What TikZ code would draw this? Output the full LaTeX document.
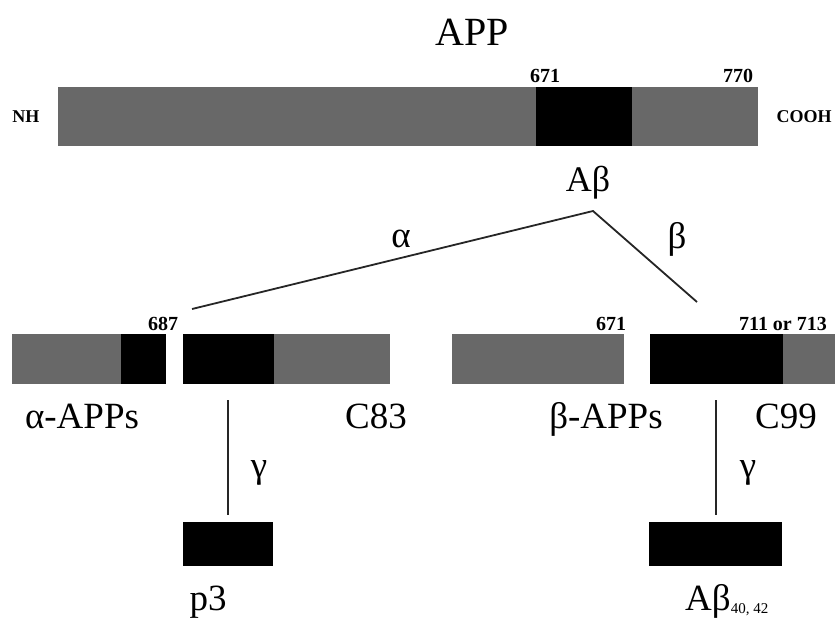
\documentclass[tikz,border=0pt]{standalone}
\usepackage{fontspec}
\setmainfont{Liberation Serif}
\definecolor{bargray}{RGB}{104,104,104}
\begin{document}
\begin{tikzpicture}[x=1pt,y=-1pt,
  seg/.style={draw=none,inner sep=0pt,outer sep=0pt,minimum height=#1},
  gseg/.style={seg=#1,fill=bargray},
  bseg/.style={seg=#1,fill=black},
  lbl/.style={inner sep=0pt,anchor=base,font=\fontsize{37}{40}\selectfont},
  num/.style={inner sep=0pt,anchor=base,font=\fontsize{20}{22}\selectfont\bfseries},
  term/.style={inner sep=0pt,anchor=base,font=\fontsize{18}{20}\selectfont\bfseries},
  cut/.style={line width=1.8pt,draw=black!85}]
\useasboundingbox (0,0) rectangle (836,619);
% top APP bar
\node[gseg=59pt,minimum width=700pt] (app) at (408,116.5) {};
\node[bseg=59pt,minimum width=96pt] (abtop) at (584,116.5) {};
\node[lbl,font=\fontsize{40}{44}\selectfont] (apptitle) at (472,45) {APP};
\node[num] (n671a) at (545,82) {671};
\node[num] (n770) at (738,82) {770};
\node[term] (nh) at (26,122) {NH};
\node[term] (cooh) at (804,122) {COOH};
\node[lbl,font=\fontsize{36}{40}\selectfont] (ab) at (588,191) {Aβ};
\coordinate (split) at (593,211);
\coordinate (aend) at (192,309);
\coordinate (bend) at (697,302);
\draw[cut] (aend) -- (split) -- (bend);
\node[lbl] (alpha) at (401,247) {α};
\node[lbl] (beta) at (677,248) {β};
% alpha products
\node[gseg=50pt,minimum width=109pt] (g1) at (66.5,359) {};
\node[bseg=50pt,minimum width=45pt] (b1) at (143.5,359) {};
\node[bseg=50pt,minimum width=91pt] (b2) at (228.5,359) {};
\node[gseg=50pt,minimum width=116pt] (g2) at (332,359) {};
\node[num] (n687) at (163,330) {687};
\node[lbl] (aapps) at (82,428) {α-APPs};
\node[lbl] (c83) at (376,428) {C83};
% beta products
\node[gseg=50pt,minimum width=172pt] (g3) at (538,359) {};
\node[bseg=50pt,minimum width=133pt] (b3) at (716.5,359) {};
\node[gseg=50pt,minimum width=52pt] (g4) at (809,359) {};
\node[num] (n671b) at (611,330) {671};
\node[num] (n711) at (783,330) {711 or 713};
\node[lbl] (bapps) at (606,428) {β-APPs};
\node[lbl] (c99) at (786,428) {C99};
% gamma cleavage
\node[bseg=44pt,minimum width=90pt] (p3box) at (228,544) {};
\node[bseg=44pt,minimum width=133pt] (abbox) at (715.5,544) {};
\coordinate (gl) at (228,400);
\coordinate (gr) at (716,400);
\draw[cut] (gl) -- ([yshift=7pt]p3box.north -| gl);
\draw[cut] (gr) -- ([yshift=7pt]abbox.north -| gr);
\node[lbl] (gam1) at (259,477) {γ};
\node[lbl] (gam2) at (748,477) {γ};
\node[lbl] (p3) at (208,610) {p3};
\node[lbl,anchor=base west] (abfin) at (685,610) {Aβ\raisebox{-3pt}{\fontsize{15}{16}\selectfont 40, 42}};
\end{tikzpicture}
\end{document}
